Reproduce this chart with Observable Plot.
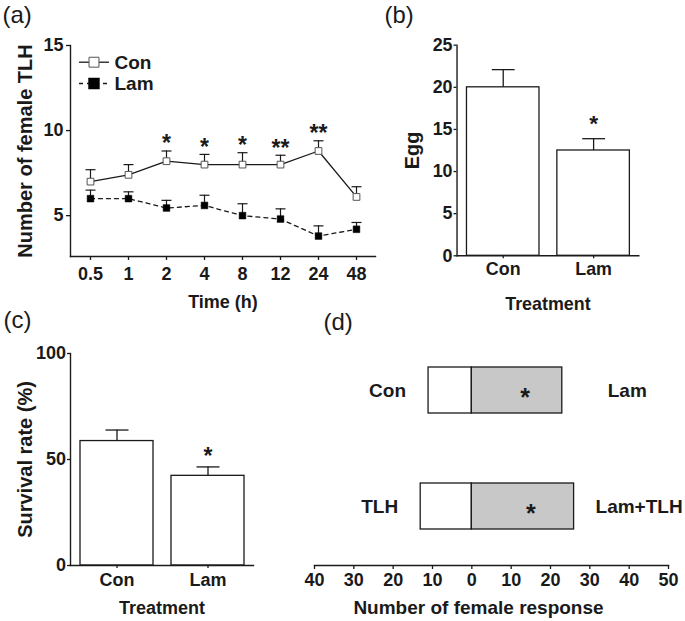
<!DOCTYPE html>
<html><head><meta charset="utf-8">
<script src="https://cdn.jsdelivr.net/npm/d3@7"></script>
<script src="https://cdn.jsdelivr.net/npm/@observablehq/plot@0.6"></script>
<style>
body{margin:0;background:#fff;}
#fig{position:relative;width:685px;height:621px;background:#fff;}
#fig > div{position:absolute;}
</style></head><body><div id="fig"></div>
<script>
// ---- data ----
const times = ["0.5","1","2","4","8","12","24","48"];
const conMean = [7.0, 7.4, 8.2, 8.0, 8.0, 8.0, 8.8, 6.1];
const conSem  = [0.7, 0.6, 0.6, 0.6, 0.7, 0.55, 0.6, 0.6];
const lamMean = [6.0, 6.0, 5.45, 5.6, 5.0, 4.8, 3.8, 4.2];
const lamSem  = [0.5, 0.4, 0.45, 0.6, 0.7, 0.6, 0.6, 0.4];
const sigA    = ["", "", "*", "*", "*", "**", "**", ""];
const seriesNames = ["Con", "Lam"];

const treatments = ["Con", "Lam"];
const eggMean = [20, 12.5];
const eggSem  = [2.1, 1.4];
const eggSig  = ["", "*"];

const survMean = [58.7, 42.3];
const survSem  = [5.2, 4.2];
const survSig  = ["", "*"];

const choiceRows   = ["Con", "TLH"];
const choiceLeft   = ["Con", "TLH"];
const choiceRight  = ["Lam", "Lam+TLH"];
const choiceLeftN  = [11, 13];
const choiceRightN = [23, 26];
const choiceSig    = ["*", "*"];
const choiceTicks  = [-40, -30, -20, -10, 0, 10, 20, 30, 40, 50];

// ---- styling helpers ----
const FONT = "'Liberation Sans', Arial, Helvetica, sans-serif";
const INK = "#1a1a1a";
const baseStyle = {fontFamily: FONT, fontSize: "18px", fontWeight: "bold", color: INK, background: "transparent", overflow: "visible"};
const cap = {draw(ctx, size) { const r = Math.sqrt(size / Math.PI); ctx.moveTo(-r, 0); ctx.lineTo(r, 0); }};
const seg = cap;
const M = {textAnchor: "middle", lineAnchor: "middle"};

function place(svg, left, top) {
  const d = document.createElement("div");
  d.style.left = left + "px"; d.style.top = top + "px";
  d.appendChild(svg);
  document.getElementById("fig").appendChild(d);
}

// ---- panel (a) ----
const dA = times.map((t, i) => ({t, con: conMean[i], conTop: conMean[i] + conSem[i], lam: lamMean[i], lamTop: lamMean[i] + lamSem[i], sig: sigA[i]}));
const plotA = Plot.plot({
  width: 380, height: 320, marginLeft: 70, marginRight: 5, marginTop: 45, marginBottom: 64,
  style: baseStyle,
  x: {type: "point", domain: times, padding: 0.5, label: null},
  y: {domain: [2.6, 15], label: null},
  marks: [
    Plot.frame({anchor: "left", stroke: INK, strokeWidth: 1.4}),
    Plot.frame({anchor: "bottom", stroke: INK, strokeWidth: 1.4}),
    Plot.axisY({ticks: [5, 10, 15], tickSize: 4, tickPadding: 3, label: null, strokeWidth: 1.3}),
    Plot.axisX({tickSize: 4, tickPadding: 7, label: null, strokeWidth: 1.3}),
    Plot.ruleX(dA, {x: "t", y1: "lam", y2: "lamTop", stroke: INK, strokeWidth: 1.2}),
    Plot.dot(dA, {x: "t", y: "lamTop", symbol: cap, r: 5, stroke: INK, fill: "none", strokeWidth: 1.2}),
    Plot.ruleX(dA, {x: "t", y1: "con", y2: "conTop", stroke: INK, strokeWidth: 1.2}),
    Plot.dot(dA, {x: "t", y: "conTop", symbol: cap, r: 5, stroke: INK, fill: "none", strokeWidth: 1.2}),
    Plot.line(dA, {x: "t", y: "lam", stroke: INK, strokeWidth: 1.3, strokeDasharray: "4,4"}),
    Plot.line(dA, {x: "t", y: "con", stroke: INK, strokeWidth: 1.3}),
    Plot.dot(dA, {x: "t", y: "lam", symbol: "square", r: 3.8, fill: "black", stroke: "black", strokeWidth: 0.5}),
    Plot.dot(dA, {x: "t", y: "con", symbol: "square", r: 3.8, fill: "white", stroke: "#555", strokeWidth: 1}),
    Plot.text(dA, {x: "t", y: "conTop", text: "sig", dy: -7, fontSize: 23, fill: INK}),
    // legend
    Plot.dot([0], {frameAnchor: "top-left", dx: 23.5, dy: 16.7, symbol: seg, r: 15, stroke: INK, fill: "none", strokeWidth: 1.3}),
    Plot.dot([0], {frameAnchor: "top-left", dx: 23.5, dy: 16.7, symbol: "square", r: 5.6, fill: "white", stroke: "#555", strokeWidth: 1}),
    Plot.dot([0], {frameAnchor: "top-left", dx: 23.5, dy: 38, symbol: seg, r: 15, stroke: INK, fill: "none", strokeWidth: 1.3, strokeDasharray: "4,4"}),
    Plot.dot([0], {frameAnchor: "top-left", dx: 23.5, dy: 38, symbol: "square", r: 5.6, fill: "black", stroke: "black"}),
    Plot.text([seriesNames[0]], {frameAnchor: "top-left", dx: 44, dy: 17, textAnchor: "start", lineAnchor: "middle", fontSize: 19}),
    Plot.text([seriesNames[1]], {frameAnchor: "top-left", dx: 44, dy: 38.5, textAnchor: "start", lineAnchor: "middle", fontSize: 19}),
    // titles
    Plot.text(["Time (h)"], {frameAnchor: "bottom", dy: 46, fontSize: 18, ...M}),
    Plot.text(["Number of female TLH"], {frameAnchor: "left", dx: -45, rotate: -90, fontSize: 20, ...M}),
    Plot.text(["(a)"], {frameAnchor: "top-left", dx: -68, dy: -30, textAnchor: "start", lineAnchor: "middle", fontSize: 24, fontWeight: "normal"})
  ]
});
place(plotA, 0, 0);

// ---- bar panel helper ----
function barPanel({means, sems, sigs, domain, ticks, ytitle, tag, tagDx, tagDy, starDy, marginTop, height, titleDy, tickPad}) {
  const d = treatments.map((t, i) => ({t, v: means[i], top: means[i] + sems[i], sig: sigs[i]}));
  return Plot.plot({
    width: 300, height, marginLeft: 70, marginRight: 47, marginTop, marginBottom: height - marginTop - 212,
    style: baseStyle,
    x: {type: "band", domain: treatments, paddingInner: 0.2, paddingOuter: 0.1, label: null},
    y: {domain, label: null},
    marks: [
      Plot.barY(d, {x: "t", y: "v", fill: "white", stroke: INK, strokeWidth: 1.3}),
      Plot.ruleX(d, {x: "t", y1: "v", y2: "top", stroke: INK, strokeWidth: 1.3}),
      Plot.dot(d, {x: "t", y: "top", symbol: cap, r: 11.5, stroke: INK, fill: "none", strokeWidth: 1.3}),
      Plot.frame({anchor: "left", stroke: INK, strokeWidth: 1.4}),
      Plot.frame({anchor: "bottom", stroke: INK, strokeWidth: 1.4}),
      Plot.axisY({ticks, tickSize: 3, tickPadding: 1.5, label: null, strokeWidth: 1.3}),
      Plot.axisX({tickSize: 3, tickPadding: tickPad, label: null, strokeWidth: 1.3}),
      Plot.text(d, {x: "t", y: "top", text: "sig", dy: starDy, fontSize: 23}),
      Plot.text(["Treatment"], {frameAnchor: "bottom", dy: titleDy, fontSize: 18, ...M}),
      Plot.text([ytitle], {frameAnchor: "left", dx: -45, rotate: -90, fontSize: 20, ...M}),
      Plot.text([tag], {frameAnchor: "top-left", dx: tagDx, dy: tagDy, textAnchor: "start", lineAnchor: "middle", fontSize: 24, fontWeight: "normal"})
    ]
  });
}

// ---- panel (b) ----
const plotB = barPanel({means: eggMean, sems: eggSem, sigs: eggSig, domain: [0, 25], ticks: [0, 5, 10, 15, 20, 25],
  ytitle: "Egg", tag: "(b)", tagDx: -73, tagDy: -30, starDy: -15, marginTop: 45, height: 320, titleDy: 49, tickPad: 4});
place(plotB, 387, 0);

// ---- panel (c) ----
const plotC = barPanel({means: survMean, sems: survSem, sigs: survSig, domain: [0, 100], ticks: [0, 50, 100],
  ytitle: "Survival rate (%)", tag: "(c)", tagDx: -67, tagDy: -33, starDy: -10, marginTop: 43, height: 311, titleDy: 43, tickPad: 5});
place(plotC, 0, 310);

// ---- panel (d) ----
const dD = choiceRows.map((r, i) => ({row: r, left: -choiceLeftN[i], right: choiceRightN[i], lLab: choiceLeft[i], rLab: choiceRight[i], sig: choiceSig[i]}));
const plotD = Plot.plot({
  width: 385, height: 311, marginLeft: 14, marginRight: 17, marginTop: 20, marginBottom: 56,
  style: baseStyle,
  x: {domain: [-40, 50], label: null},
  y: {type: "band", domain: choiceRows, paddingInner: 0.607, paddingOuter: 0.308, axis: null},
  marks: [
    Plot.barX(dD, {y: "row", x1: d => 0, x2: "left", fill: "white", stroke: INK, strokeWidth: 1.3}),
    Plot.barX(dD, {y: "row", x1: d => 0, x2: "right", fill: "#c8c8c8", stroke: INK, strokeWidth: 1.3}),
    Plot.frame({anchor: "bottom", stroke: INK, strokeWidth: 1.4}),
    Plot.axisX({ticks: choiceTicks, tickFormat: d => Math.abs(d), tickSize: 4, tickPadding: 4, label: null, strokeWidth: 1.3}),
    Plot.text(dD, {y: "row", x: d => d.right / 2, dx: 8, dy: 7, text: "sig", fontSize: 25}),
    Plot.text(dD, {y: "row", x: "left", dx: -41, text: "lLab", fontSize: 19}),
    Plot.text(dD, {y: "row", x: "right", dx: 65, text: "rLab", fontSize: 19}),
    Plot.text(["Number of female response"], {frameAnchor: "bottom", dx: -13, dy: 42, fontSize: 19, ...M}),
    Plot.text(["(d)"], {frameAnchor: "top-left", dx: 9, dy: -8, textAnchor: "start", lineAnchor: "middle", fontSize: 24, fontWeight: "normal"})
  ]
});
place(plotD, 300, 310);
</script></body></html>
